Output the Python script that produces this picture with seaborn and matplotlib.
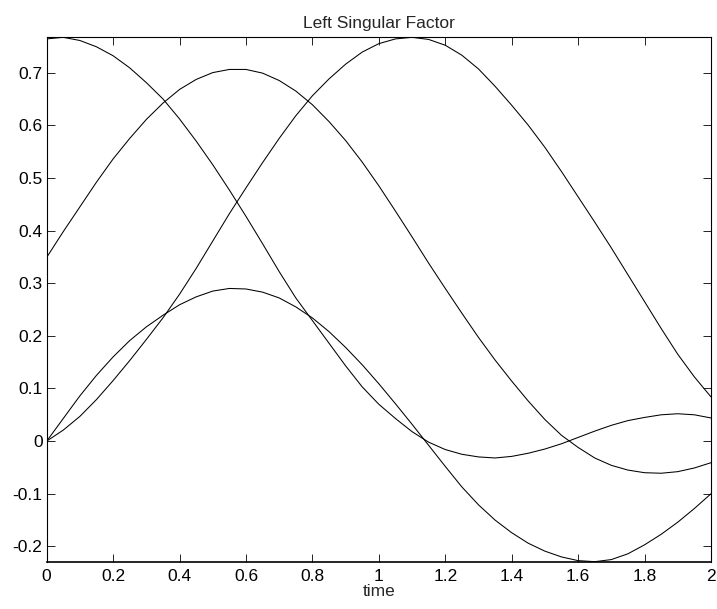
import numpy as np
import pandas as pd
import matplotlib
matplotlib.use("Agg")
import matplotlib.pyplot as plt
import seaborn as sns

# ---- data ----
time = [0.00, 0.05, 0.10, 0.15, 0.20, 0.25, 0.30, 0.35, 0.40, 0.45,
        0.50, 0.55, 0.60, 0.65, 0.70, 0.75, 0.80, 0.85, 0.90, 0.95,
        1.00, 1.05, 1.10, 1.15, 1.20, 1.25, 1.30, 1.35, 1.40, 1.45,
        1.50, 1.55, 1.60, 1.65, 1.70, 1.75, 1.80, 1.85, 1.90, 1.95, 2.00]

curve1 = [0.764, 0.767, 0.761, 0.749, 0.732, 0.709, 0.681, 0.650, 0.612, 0.570,
          0.525, 0.477, 0.427, 0.375, 0.322, 0.272, 0.229, 0.186, 0.143, 0.103,
          0.070, 0.043, 0.018, -0.002, -0.016, -0.025, -0.030, -0.032, -0.029, -0.023,
          -0.015, -0.005, 0.007, 0.019, 0.030, 0.039, 0.045, 0.050, 0.052, 0.050, 0.044]

curve2 = [0.349, 0.398, 0.445, 0.492, 0.536, 0.575, 0.611, 0.642, 0.668, 0.687,
          0.700, 0.706, 0.706, 0.699, 0.685, 0.665, 0.639, 0.607, 0.571, 0.530,
          0.485, 0.437, 0.388, 0.338, 0.290, 0.243, 0.197, 0.154, 0.114, 0.076,
          0.041, 0.011, -0.012, -0.032, -0.046, -0.055, -0.060, -0.061, -0.058, -0.051, -0.041]

curve3 = [0.000, 0.021, 0.047, 0.079, 0.115, 0.153, 0.193, 0.234, 0.279, 0.328,
          0.380, 0.432, 0.481, 0.529, 0.575, 0.618, 0.656, 0.688, 0.716, 0.739,
          0.755, 0.764, 0.767, 0.763, 0.752, 0.733, 0.707, 0.674, 0.638, 0.600,
          0.558, 0.512, 0.464, 0.416, 0.367, 0.316, 0.265, 0.214, 0.165, 0.122, 0.084]

curve4 = [0.000, 0.043, 0.086, 0.125, 0.160, 0.191, 0.217, 0.239, 0.259, 0.274,
          0.285, 0.290, 0.289, 0.283, 0.272, 0.255, 0.234, 0.208, 0.178, 0.145,
          0.109, 0.071, 0.032, -0.008, -0.048, -0.087, -0.121, -0.150, -0.174, -0.194,
          -0.209, -0.220, -0.227, -0.229, -0.225, -0.214, -0.197, -0.177, -0.154, -0.128, -0.100]

xticks = [0, 0.2, 0.4, 0.6, 0.8, 1.0, 1.2, 1.4, 1.6, 1.8, 2.0]
xtick_labels = ["0", "0.2", "0.4", "0.6", "0.8", "1", "1.2", "1.4", "1.6", "1.8", "2"]
yticks = [-0.2, -0.1, 0, 0.1, 0.2, 0.3, 0.4, 0.5, 0.6, 0.7]
ytick_labels = ["-0.2", "-0.1", "0", "0.1", "0.2", "0.3", "0.4", "0.5", "0.6", "0.7"]

title = "Left Singular Factor"
xlabel = "time"

# ---- build long-form table ----
series = {"u1": curve1, "u2": curve2, "u3": curve3, "u4": curve4}
df = pd.concat(
    [pd.DataFrame({"time": time, "value": v, "curve": k}) for k, v in series.items()],
    ignore_index=True,
)

sns.set_style("ticks")
plt.rcParams["font.family"] = ["Liberation Sans", "DejaVu Sans"]
plt.rcParams["lines.solid_joinstyle"] = "round"

fig = plt.figure(figsize=(7.17, 6.09), dpi=100)
ax = fig.add_axes([0.0651, 0.0777, 0.9265, 0.861])

sns.lineplot(data=df, x="time", y="value", hue="curve",
             palette=["black"] * 4, legend=False, estimator=None,
             linewidth=0.75, ax=ax)

ax.set_xlim(0, 2)
ax.set_ylim(df["value"].min(), df["value"].max())
ax.set_xticks(xticks)
ax.set_xticklabels(xtick_labels)
ax.set_yticks(yticks)
ax.set_yticklabels(ytick_labels)

ax.tick_params(direction="in", top=True, right=True, length=6, width=0.6,
               labelsize=12.5, colors="black")
ax.tick_params(axis="x", pad=5)
ax.tick_params(axis="y", pad=3)
for s in ax.spines.values():
    s.set_visible(True)
    s.set_linewidth(0.8)
    s.set_color("black")
ax.spines["bottom"].set_linewidth(1.2)

ax.set_title(title, fontsize=12.5, pad=7)
ax.set_xlabel(xlabel, fontsize=12.5, labelpad=0)
ax.set_ylabel("")

fig.savefig("out.png", dpi=100)
